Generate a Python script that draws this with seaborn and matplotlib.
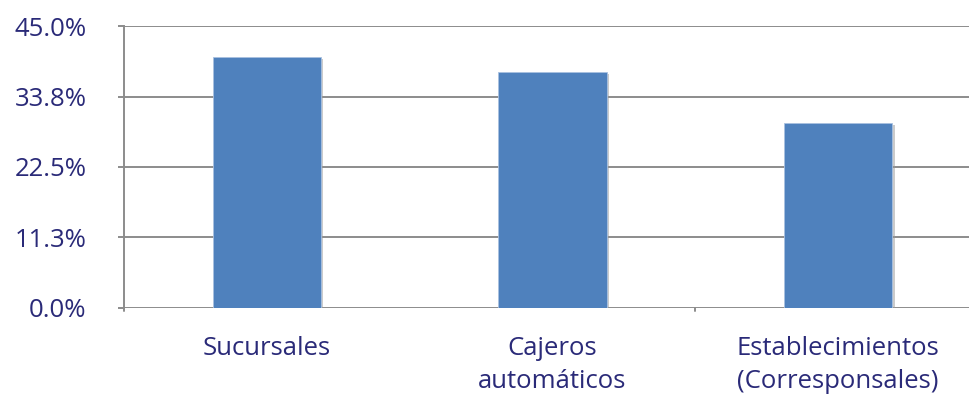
import matplotlib
matplotlib.use("Agg")
import matplotlib.pyplot as plt
import matplotlib.patheffects as pe
import seaborn as sns
import pandas as pd

# Share of transactions by channel (%)
categories = ["Sucursales", "Cajeros\nautomáticos", "Establecimientos\n(Corresponsales)"]
values = [40.0, 37.6, 29.5]
y_ticks = [0.0, 11.25, 22.5, 33.75, 45.0]
y_tick_labels = ["0.0%", "11.3%", "22.5%", "33.8%", "45.0%"]

df = pd.DataFrame({"canal": categories, "pct": values})

sns.set_theme(style="white")
plt.rcParams["font.family"] = ["Open Sans", "DejaVu Sans"]

text_color = "#2a2a78"
grid_color = "#8c8c8c"
bar_color = "#4f81bd"
font_size = 18.5

fig = plt.figure(figsize=(9.69, 3.94), dpi=100)
ax = fig.add_axes([0.128, 0.2183, 0.8844, 0.7157])

sns.barplot(data=df, x="canal", y="pct", color=bar_color, saturation=1,
            width=0.38, ax=ax, edgecolor="#a9c1e0", linewidth=0.6, zorder=3)

for patch in ax.patches:
    patch.set_path_effects([
        pe.SimplePatchShadow(offset=(1.5, -1.5), shadow_rgbFace="#999999", alpha=0.5),
        pe.Normal(),
    ])

ax.set_ylim(0, 45)
ax.set_xlim(-0.5, 2.5)
ax.set_yticks(y_ticks)
ax.set_yticklabels(y_tick_labels)
ax.set_xlabel("")
ax.set_ylabel("")

# horizontal gridlines at every tick
for yv in y_ticks:
    ax.axhline(yv, color=grid_color, linewidth=1.4, zorder=1)

# category separator ticks on the x axis
ax.set_xticks([0, 1, 2])
ax.set_xticklabels(categories)
ax.tick_params(axis="x", length=0, pad=20, labelsize=font_size, colors=text_color)
for xv in [-0.5, 1.5]:
    ax.plot([xv, xv], [0, -0.012], transform=ax.get_xaxis_transform(),
            color=grid_color, linewidth=1.4, clip_on=False)

ax.tick_params(axis="y", length=4, width=1.4, color=grid_color, pad=23,
               labelsize=font_size, colors=text_color, left=True)
for lbl in ax.get_yticklabels():
    lbl.set_color(text_color)
for lbl in ax.get_xticklabels():
    lbl.set_color(text_color)
    lbl.set_linespacing(1.42)

for side in ["top", "right"]:
    ax.spines[side].set_visible(False)
ax.spines["bottom"].set_visible(False)
ax.spines["left"].set_color(grid_color)
ax.spines["left"].set_linewidth(1.4)

fig.savefig("out.png", dpi=100)
